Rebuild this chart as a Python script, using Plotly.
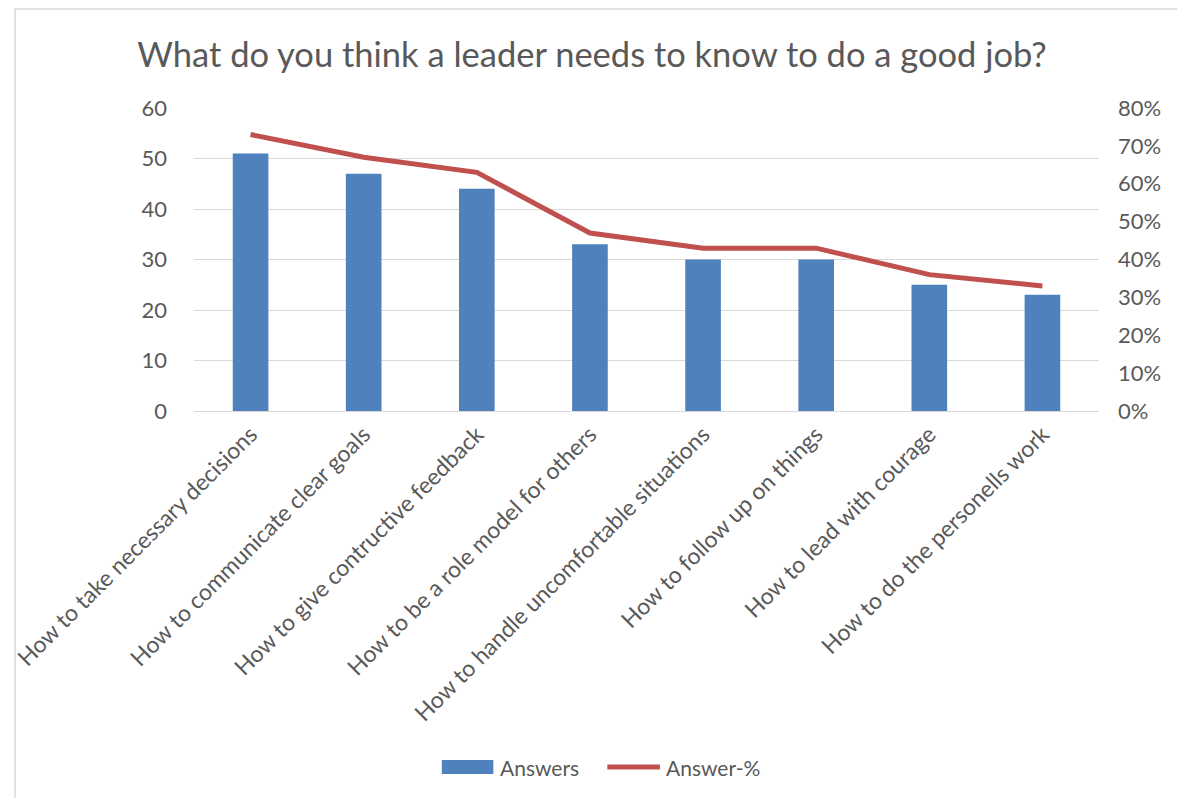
import plotly.graph_objects as go

categories = [
    "How to take necessary decisions",
    "How to communicate clear goals",
    "How to give contructive feedback",
    "How to be a role model for others",
    "How to handle uncomfortable situations",
    "How to follow up on things",
    "How to lead with courage",
    "How to do the personells work",
]
answers = [51, 47, 44, 33, 30, 30, 25, 23]
answer_pct = [0.73, 0.67, 0.63, 0.47, 0.43, 0.43, 0.36, 0.33]

FONT = "Lato"
GREY = "#595959"
BLUE = "#4F81BD"
RED = "#C0504D"

fig = go.Figure()
fig.add_trace(go.Bar(x=categories, y=answers, name="Answers",
                     marker=dict(color=BLUE, line=dict(width=0))))
fig.add_trace(go.Scatter(x=categories, y=answer_pct, name="Answer-%", yaxis="y2",
                         mode="lines", line=dict(color=RED, width=5)))

L, R, T, B = 186, 1099, 108, 411
W, H = 1178, 798
pw, ph = R - L, B - T


def px(x):
    return (x - L) / pw


def py(y):
    return (B - y) / ph


shapes = [
    # chart border (top and left edges visible)
    dict(type="line", xref="paper", yref="paper", x0=px(5), x1=px(1178), y0=py(9), y1=py(9),
         line=dict(color="#D9D9D9", width=1.5), layer="below"),
    dict(type="line", xref="paper", yref="paper", x0=px(5.5), x1=px(5.5), y0=py(9), y1=py(798),
         line=dict(color="#D9D9D9", width=1.5), layer="below"),
    # legend keys
    dict(type="rect", xref="paper", yref="paper", x0=px(436), x1=px(488), y0=py(774), y1=py(760),
         fillcolor=BLUE, line=dict(width=0)),
    dict(type="line", xref="paper", yref="paper", x0=px(603), x1=px(656), y0=py(767), y1=py(767),
         line=dict(color=RED, width=5)),
]

annotations = [
    dict(text="Answers", xref="paper", yref="paper", x=px(493), y=py(767),
         xanchor="left", yanchor="middle", showarrow=False, font=dict(size=21, color=GREY)),
    dict(text="Answer-%", xref="paper", yref="paper", x=px(660), y=py(767),
         xanchor="left", yanchor="middle", showarrow=False, font=dict(size=21, color=GREY)),
]

fig.update_layout(
    width=W, height=H,
    margin=dict(l=L, r=W - R, t=T, b=H - B),
    paper_bgcolor="white", plot_bgcolor="white",
    font=dict(family=FONT, color=GREY, size=21),
    title=dict(text="What do you think a leader needs to know to do a good job?",
               x=592 / W, xanchor="center", y=1 - 55 / H, yanchor="middle",
               font=dict(size=34.5, color=GREY, family=FONT)),
    bargap=0.685,
    showlegend=False,
    xaxis=dict(tickangle=-45, showgrid=False, showline=True, linecolor="#D9D9D9",
               linewidth=1, ticks="", tickfont=dict(size=23, color=GREY)),
    yaxis=dict(range=[0, 60], dtick=10, showgrid=True, gridcolor="#D9D9D9", gridwidth=1,
               zeroline=False, showline=False, ticks="", ticklabelstandoff=26,
               tickfont=dict(size=22, color=GREY)),
    yaxis2=dict(range=[0, 0.8], dtick=0.1, tickformat=".0%", overlaying="y", side="right",
                showgrid=False, zeroline=False, showline=False, ticks="",
                ticklabelstandoff=18, tickfont=dict(size=22, color=GREY)),
    shapes=shapes,
    annotations=annotations,
)

fig.write_html("out.html", config={"displayModeBar": False},
               post_script="document.body.style.margin='0px';")
